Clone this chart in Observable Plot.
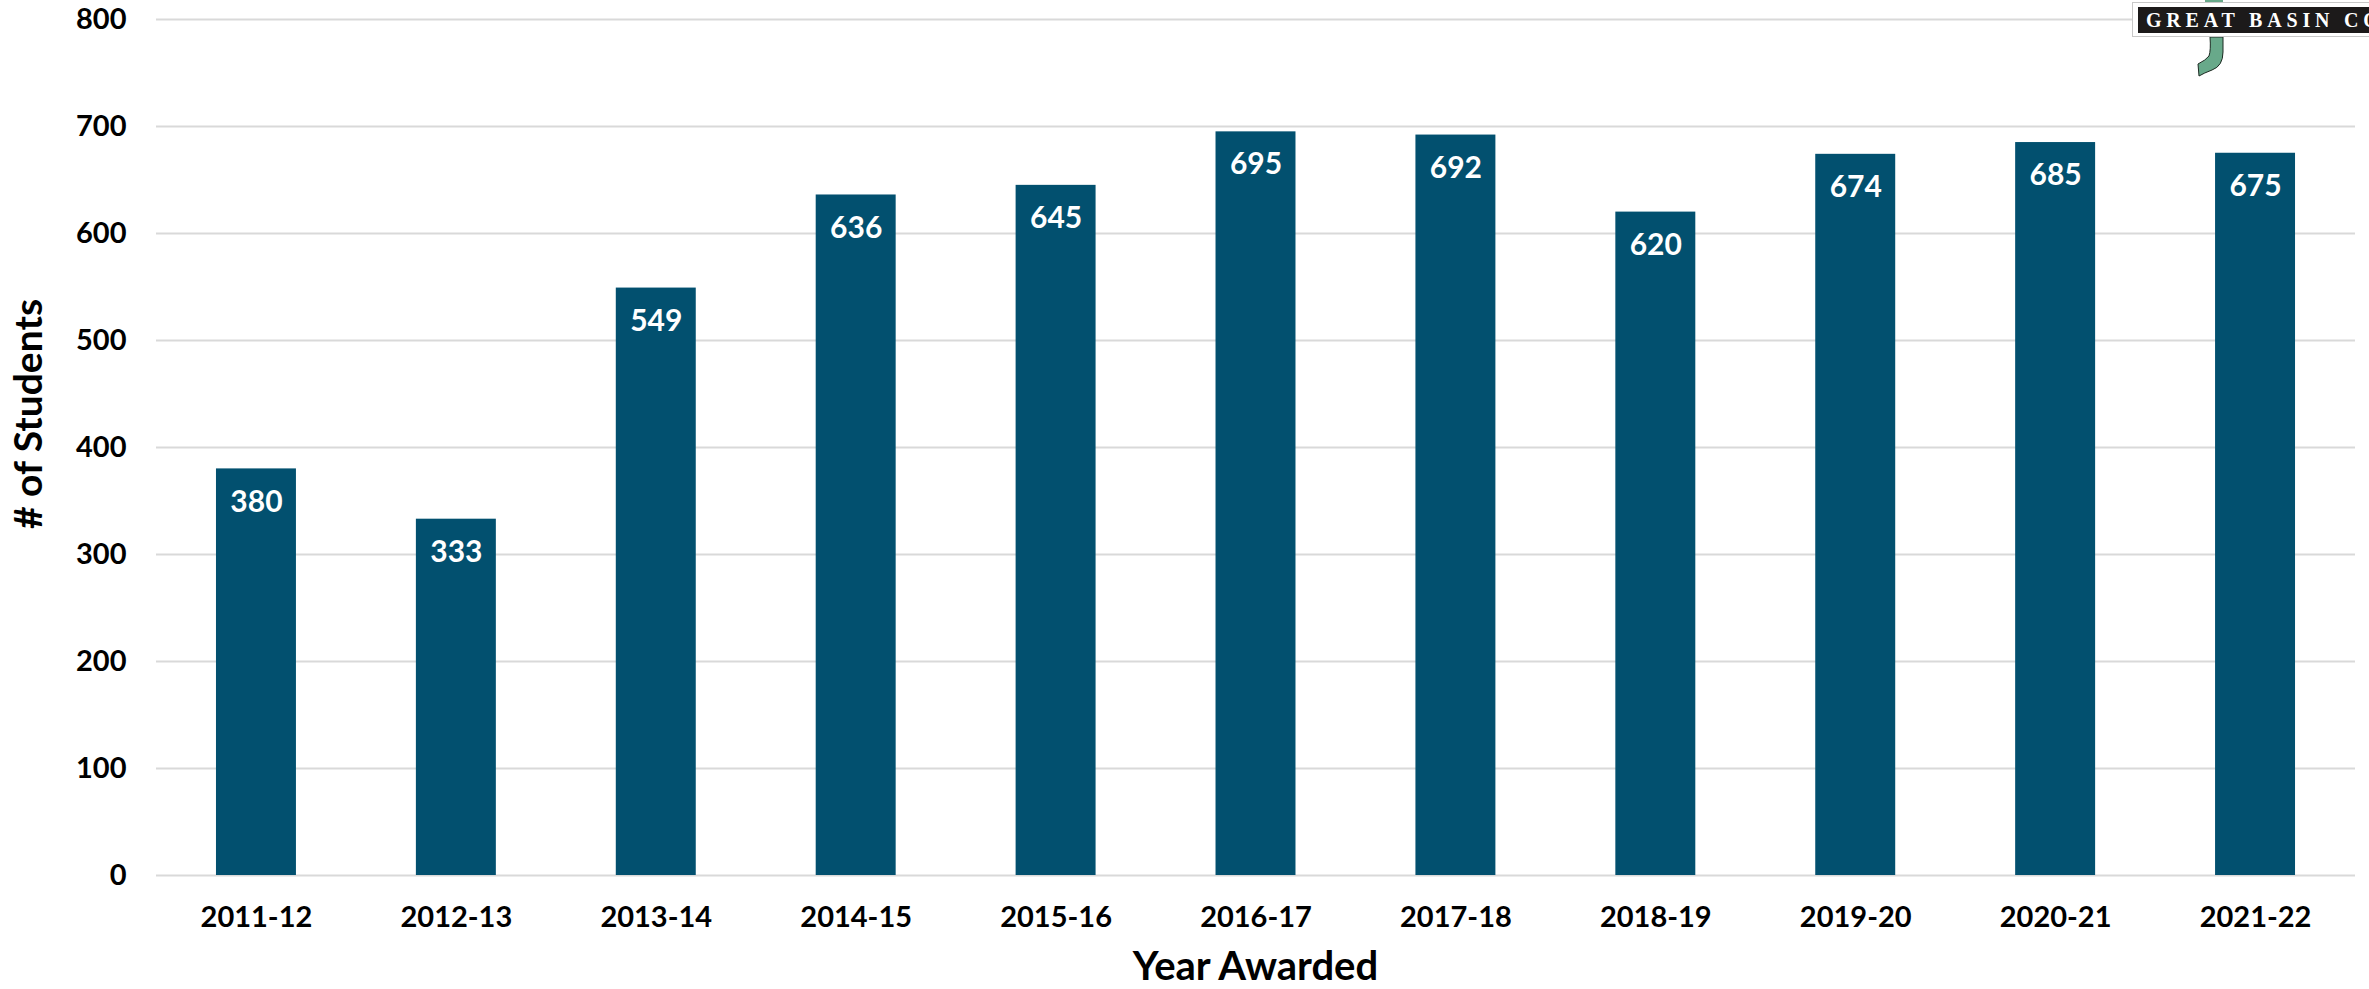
<!DOCTYPE html>
<html>
<head>
<meta charset="utf-8">
<script src="https://cdn.jsdelivr.net/npm/d3@7"></script>
<script src="https://cdn.jsdelivr.net/npm/@observablehq/plot@0.6"></script>
<style>
  html, body { margin: 0; padding: 0; background: #fff; }
  #wrap { position: relative; width: 2369px; height: 989px; overflow: hidden; }
  #logo { position: absolute; left: 2132px; top: 2px; width: 260px; height: 35px; background: #fff; border: 1px solid #c8c8c8; box-sizing: border-box; }
  #logo .inner { position: absolute; left: 5px; top: 4px; right: 0; height: 26px; background: #1c1a1a; }
  #logo .txt { position: absolute; left: 8px; top: 0; line-height: 26px; font-family: "Liberation Serif", "DejaVu Serif", serif; font-weight: bold; font-size: 20px; letter-spacing: 4.8px; color: #fff; white-space: nowrap; }
  #hook { position: absolute; left: 2190px; top: 0; }
</style>
</head>
<body>
<div id="wrap">
  <div id="chart"></div>
  <svg id="hook" width="40" height="80" viewBox="0 0 40 80">
    <path d="M15 0 L33 0 L33 2 L15 2 Z" fill="#68a98a"/>
    <path d="M20 37 L33 37 L33 52 Q33 66 22 70 Q14 73 9 76 L8 64 Q16 60 19 56 Q21 50 20 37 Z" fill="#68a98a" stroke="#1c2a22" stroke-width="1"/>
  </svg>
  <div id="logo"><div class="inner"><div class="txt">GREAT BASIN COLLEGE</div></div></div>
</div>
<script>
const years = ["2011-12","2012-13","2013-14","2014-15","2015-16","2016-17","2017-18","2018-19","2019-20","2020-21","2021-22"];
const students = [380, 333, 549, 636, 645, 695, 692, 620, 674, 685, 675];
const yTicks = [0, 100, 200, 300, 400, 500, 600, 700, 800];
const xTitle = "Year Awarded";
const yTitle = "# of Students";

const data = years.map((y, i) => ({year: y, value: students[i]}));
const W = 2369, H = 989;
const mL = 156, mR = 14, mT = 19, mB = 114;

const chart = Plot.plot({
  width: W,
  height: H,
  marginLeft: mL,
  marginRight: mR,
  marginTop: mT,
  marginBottom: mB,
  style: { fontFamily: "Lato, 'Open Sans', sans-serif", fontWeight: "bold", color: "#000", background: "#fff" },
  x: { domain: years, paddingInner: 0.6, paddingOuter: 0.3, round: false, label: null },
  y: { domain: [0, 800], label: null },
  marks: [
    Plot.gridY(yTicks, { stroke: "#d9d9d9", strokeOpacity: 1, strokeWidth: 2 }),
    Plot.barY(data, { x: "year", y: "value", fill: "#02506f" }),
    Plot.text(data, { x: "year", y: "value", text: d => String(d.value), dy: 33, fill: "#fff", fontSize: 30, fontWeight: "bold", lineAnchor: "middle" }),
    Plot.axisY(yTicks, { tickSize: 0, tickPadding: 30, fontSize: 29, fontWeight: "bold", label: null, tickFormat: d => String(d) }),
    Plot.axisX({ tickSize: 0, tickPadding: 31, fontSize: 29, fontWeight: "bold", label: null })
  ]
});
document.getElementById("chart").appendChild(chart);

const svg = d3.select(chart);
svg.append("text")
  .attr("x", (mL + (W - mR)) / 2)
  .attr("y", 970)
  .attr("text-anchor", "middle")
  .attr("dominant-baseline", "middle")
  .attr("font-family", "Lato, sans-serif")
  .attr("font-weight", "bold")
  .attr("font-size", 40)
  .attr("fill", "#000")
  .text(xTitle);
svg.append("text")
  .attr("transform", "translate(32,414) rotate(-90)")
  .attr("text-anchor", "middle")
  .attr("dominant-baseline", "middle")
  .attr("font-family", "Lato, sans-serif")
  .attr("font-weight", "bold")
  .attr("font-size", 39)
  .attr("fill", "#000")
  .text(yTitle);
</script>
</body>
</html>
